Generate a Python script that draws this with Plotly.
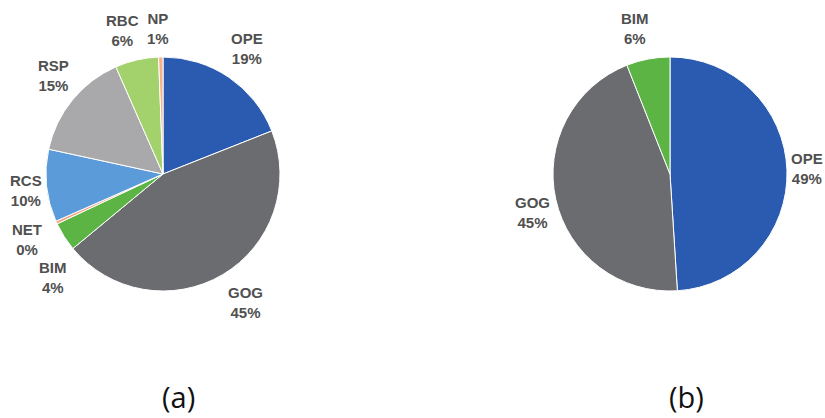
import plotly.graph_objects as go

# Panel (a): shares by category
labels_a = ["OPE", "GOG", "BIM", "NET", "RCS", "RSP", "RBC", "NP"]
values_a = [19, 45, 4, 0.4, 10, 15, 6, 0.6]
colors_a = ["#2B5BB0", "#6B6C6F", "#5BB443", "#F4A27A", "#5B9BDA", "#A9A9AB", "#A3D26C", "#F6B08C"]

# Panel (b): shares by category
labels_b = ["OPE", "GOG", "BIM"]
values_b = [49, 45, 6]
colors_b = ["#2B5BB0", "#6B6C6F", "#5BB443"]

W, H = 825, 418

# caption centre points (pixels from top-left) for each slice
label_pos_a = [(247, 48), (245, 302), (53, 277), (27, 239), (26, 190), (53, 75), (123, 30), (158, 28)]
label_pos_b = [(807, 168), (532, 212), (635, 28)]


def domain(cx, cy, r):
    return dict(x=[(cx - r) / W, (cx + r) / W], y=[1 - (cy + r) / H, 1 - (cy - r) / H])


common = dict(
    sort=False,
    direction="clockwise",
    rotation=0,
    textinfo="none",
    marker_line=dict(color="white", width=1),
    showlegend=False,
    hoverinfo="label+percent",
)

fig = go.Figure()
fig.add_trace(go.Pie(labels=labels_a, values=values_a, marker_colors=colors_a,
                     domain=domain(163, 174, 117), **common))
fig.add_trace(go.Pie(labels=labels_b, values=values_b, marker_colors=colors_b,
                     domain=domain(670, 174, 117), **common))

label_font = dict(family="Liberation Sans Narrow, Arial Narrow, Arial", size=15, color="#505050")


def add_slice_labels(labels, values, positions):
    total = sum(values)
    for lab, val, (px, py) in zip(labels, values, positions):
        pct = round(val / total * 100)
        fig.add_annotation(x=px / W, y=1 - py / H, xref="paper", yref="paper",
                           xanchor="center", yanchor="middle",
                           text=f"<b>{lab}</b><br><b>{pct}%</b>", showarrow=False,
                           font=label_font, align="center")


add_slice_labels(labels_a, values_a, label_pos_a)
add_slice_labels(labels_b, values_b, label_pos_b)

panel_font = dict(family="Open Sans, Carlito, Arial", size=29, color="#111111")
for px, txt in [(178, "(a)"), (686, "(b)")]:
    fig.add_annotation(x=px / W, y=1 - 396 / H, xref="paper", yref="paper",
                       xanchor="center", yanchor="middle", text=txt,
                       showarrow=False, font=panel_font)

fig.update_layout(width=W, height=H, margin=dict(l=0, r=0, t=0, b=0),
                  paper_bgcolor="white", plot_bgcolor="white")
fig.write_html("out.html")
